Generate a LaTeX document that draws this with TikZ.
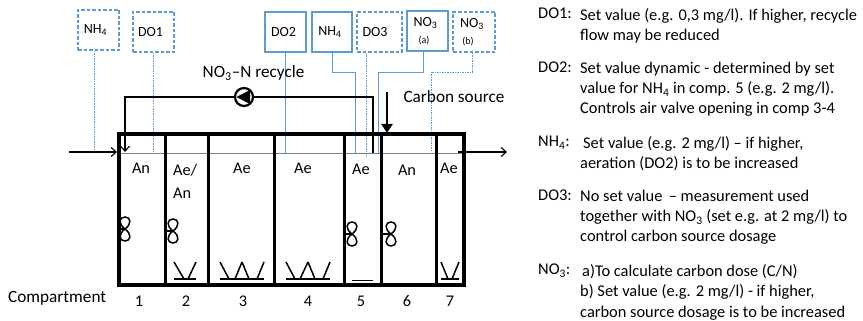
\documentclass[tikz,border=0pt]{standalone}
\usepackage{fontspec}
\setmainfont{Carlito}
\usetikzlibrary{calc,arrows.meta}
\definecolor{boxblue}{HTML}{5B9BD5}
\tikzset{
  solidbox/.style={draw=boxblue,line width=2pt,minimum width=40pt,minimum height=40pt,inner sep=0pt,align=center,font=\fontsize{14}{16}\selectfont},
  dashbox/.style={solidbox,dash pattern=on 3.5pt off 2pt},
  solidwire/.style={draw=boxblue,line width=1pt},
  dashwire/.style={draw=boxblue,line width=0.8pt,dash pattern=on 1.5pt off 1pt},
  tankline/.style={line width=3.4pt,line cap=rect},
  flowline/.style={line width=1.1pt,-{Straight Barb[length=5pt,width=9pt]}},
  lbl/.style={font=\fontsize{16.3}{18}\selectfont,inner sep=0pt},
  bigl/.style={font=\fontsize{17.2}{19}\selectfont,inner sep=0pt},
  side/.style={font=\fontsize{16.4}{20}\selectfont,inner sep=0pt,anchor=north west,align=left},
}
\newcommand{\smalltag}[1]{{\fontsize{10}{11}\selectfont #1}}
\begin{document}
\begin{tikzpicture}[x=1pt,y=-1pt]
      \useasboundingbox(0,0)rectangle(863,321);
      \coordinate(TL) at (119,134);
      \coordinate(BR) at (464,285);

      \draw[gray,line width=0.8pt](119,153)--(464,153);

      \node[dashbox,minimum width=41pt](boxNHa) at (98.5,30){\hspace*{-6pt}NH\textsubscript{4}};
      \node[dashbox,minimum width=41pt](boxDOa) at (153.5,32){\hspace*{-6pt}DO1};
      \node[solidbox,minimum width=41pt](boxDOb) at (285.5,32){\hspace*{-4pt}DO2};
      \node[solidbox](boxNHb) at (332,32){\hspace*{-4pt}NH\textsubscript{4}};
      \node[dashbox,minimum width=45pt](boxDOc) at (379.5,32){\hspace*{-9pt}DO3};
      \node[solidbox,minimum width=41pt](boxNOa) at (427.5,31){\hspace*{-4pt}NO\textsubscript{3}\\[1pt]\hspace*{-7pt}\smalltag{(a)}};
      \node[dashbox,minimum width=42pt](boxNOb) at (474,32){\hspace*{-4pt}NO\textsubscript{3}\\[1pt]\hspace*{-12pt}\smalltag{(b)}};

      \coordinate(endNHa) at (94,152);
      \coordinate(endDOa) at (153,154);
      \coordinate(endDOb) at (285,154);
      \coordinate(endNHb) at (355,153);
      \coordinate(endDOc) at (366,157);
      \coordinate(endNOa) at (378,153);
      \coordinate(endNOb) at (431,152);

      \draw[dashwire](boxNHa.south-|endNHa)--(endNHa);
      \draw[dashwire](boxDOa.south-|endDOa)--(endDOa);
      \draw[solidwire](boxDOb.south-|endDOb)--(endDOb);
      \draw[solidwire](boxNHb.south)|-(355,73)--(endNHb);
      \draw[dashwire](boxDOc.south-|endDOc)--(endDOc);
      \draw[solidwire](boxNOa.south-|423,0)|-(378,73)--(endNOa);
      \draw[dashwire](boxNOb.south-|472,0)|-(431,72)--(endNOb);

      \draw[tankline](TL)rectangle(BR);
      \foreach \wallx in {165,208,274,344,381,436}
        \draw[line width=3pt](\wallx,134)--(\wallx,285);

      \coordinate(inStart) at (69,152);
      \coordinate(inEnd) at (117,152);
      \coordinate(outStart) at (458,152);
      \coordinate(outEnd) at (507,152);
      \draw[flowline](inStart)--(inEnd);
      \draw[flowline](outStart)--(outEnd);

      \node[circle,draw,line width=2.2pt,minimum size=18pt,inner sep=0pt](pump) at (244,97){};
      \fill(236.5,97)--(250,90)--(250,104)--cycle;
      \coordinate(recStart) at (373,153);
      \coordinate(recEnd) at (125,152);
      \draw[line width=1.1pt](recStart)|-(pump);
      \draw[flowline](pump)-|(recEnd);

      \coordinate(carbonTop) at (387,92);
      \coordinate(carbonEnd) at (387,133);
      \draw[line width=2.5pt,-{Triangle[length=9pt,width=11pt]}](carbonTop)--(carbonEnd);

      \node[bigl](recLabel) at (253.5,73){NO\textsubscript{3}–N recycle};
      \node[bigl](carbonLabel) at (454,97){Carbon source};

      \foreach \wallx/\mixx/\mixy in {119/125/229,165/173/231,344/352/234,381/391/234}{
        \draw[line width=1.3pt](\wallx,\mixy)--(\mixx,\mixy);
        \draw[line width=1.5pt](\mixx,\mixy)..controls(\mixx+7,\mixy-5)and(\mixx+6,\mixy-12)..(\mixx,\mixy-12)
          ..controls(\mixx-6,\mixy-12)and(\mixx-7,\mixy-5)..(\mixx,\mixy)
          ..controls(\mixx+7,\mixy+5)and(\mixx+6,\mixy+12)..(\mixx,\mixy+12)
          ..controls(\mixx-6,\mixy+12)and(\mixx-7,\mixy+5)..(\mixx,\mixy);
      }

      \foreach \xa/\xb in {174/196,220/264,286/330,441/459}
        \draw[line width=1.5pt](\xa,279)--(\xb,279);
      \draw[line width=0.8pt](352,280)--(373,280);
      \foreach \xa/\xb in {174/184,196/188,220/229,242/235,242/249,264/257,286/295,308/300,308/315,330/323,441/448,459/452}
        \draw[line width=1.5pt](\xa,262)--(\xb,279);

      \node[lbl](zoneA) at (141,168){An};
      \node[lbl,anchor=west](zoneB) at (173,170){Ae/};
      \node[lbl,anchor=west](zoneBb) at (173,193){An};
      \node[lbl](zoneC) at (242,168){Ae};
      \node[lbl](zoneD) at (303,168){Ae};
      \node[lbl](zoneE) at (361,169){Ae};
      \node[lbl](zoneF) at (407,170){An};
      \node[lbl](zoneG) at (449,168){Ae};

      \node[bigl,anchor=west](compLabel) at (8,298){Compartment};
      \foreach \n/\numx in {1/139,2/186,3/243,4/308,5/361,6/407,7/450}
        \node[lbl](num\n) at (\numx,301){\n};

      \node[side](keyDOa) at (538,8){DO1:};
      \node[side](textDOa) at (580,8){Set value (e.g. 0,3 mg/l). If higher, recycle\\flow may be reduced};
      \node[side](keyDOb) at (538,62){DO2:};
      \node[side](textDOb) at (580,62){Set value dynamic - determined by set\\value for NH\textsubscript{4} in comp. 5 (e.g. 2 mg/l).\\Controls air valve opening in comp 3-4};
      \node[side](keyNH) at (538,136){NH\textsubscript{4}:};
      \node[side](textNHa) at (583,136){Set value (e.g. 2 mg/l) – if higher,};
      \node[side](textNHb) at (580,156){aeration (DO2) is to be increased};
      \node[side](keyDOc) at (538,190){DO3:};
      \node[side](textDOc) at (580,190){No set value \,– measurement used\\together with NO\textsubscript{3} (set e.g. at 2 mg/l) to\\control carbon source dosage};
      \node[side](keyNO) at (538,264){NO\textsubscript{3}:};
      \node[side](textNOa) at (582,264){a)To calculate carbon dose (C/N)};
      \node[side](textNOb) at (580,284){b) Set value (e.g. 2 mg/l) - if higher,};
      \node[side](textNOc) at (580,306){carbon source dosage is to be increased};
\end{tikzpicture}
\end{document}
